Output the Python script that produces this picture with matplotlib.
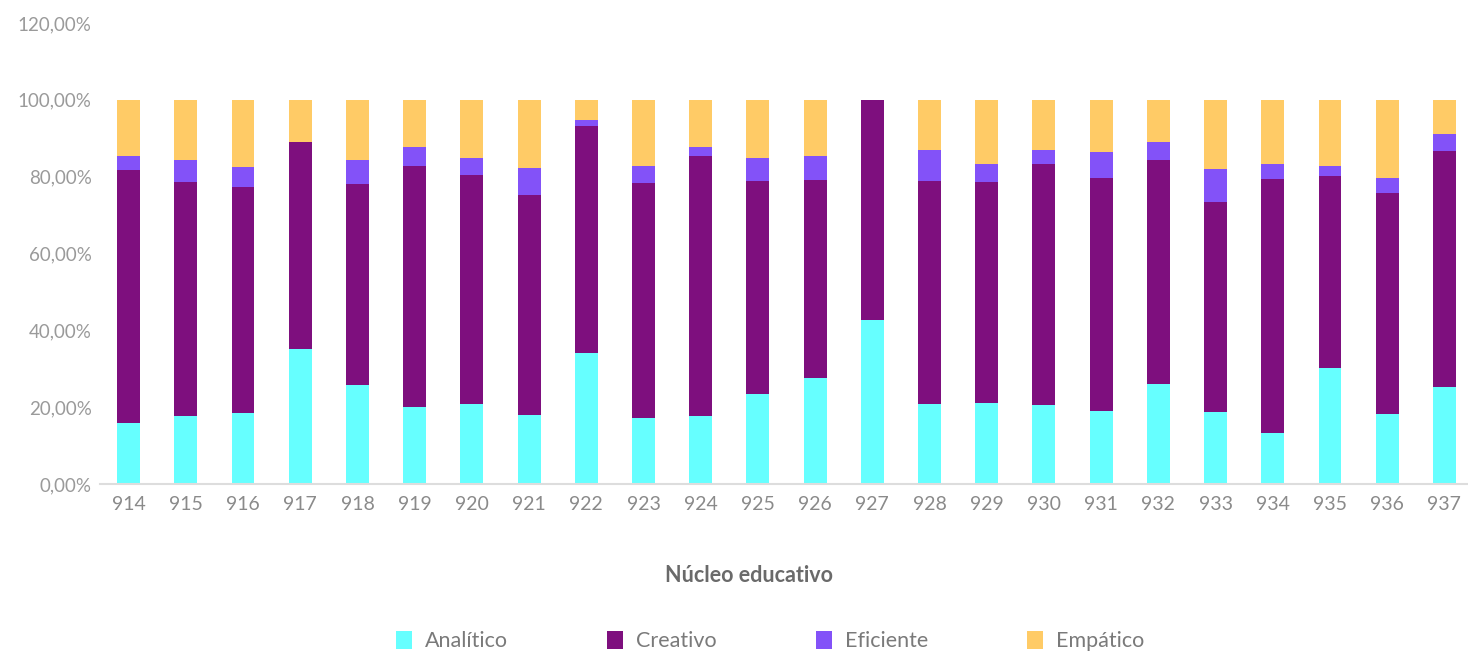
import numpy as np
import matplotlib
matplotlib.use("Agg")
import matplotlib.pyplot as plt
from matplotlib.ticker import FuncFormatter
from matplotlib.patches import Patch

# Núcleos educativos (eje x)
nucleos = [str(n) for n in range(914, 938)]

# Porcentajes por perfil
analitico = [16.0, 17.7, 18.6, 35.1, 25.8, 20.1, 20.8, 18.0, 34.0, 17.1, 17.7, 23.4,
             27.5, 42.7, 20.7, 21.2, 20.6, 19.1, 26.0, 18.7, 13.2, 30.1, 18.2, 25.3]
creativo = [65.8, 60.8, 58.7, 53.9, 52.3, 62.8, 59.7, 57.3, 59.3, 61.2, 67.7, 55.6,
            51.7, 57.3, 58.3, 57.5, 62.6, 60.5, 58.4, 54.8, 66.1, 50.1, 57.5, 61.4]
eficiente = [3.7, 5.8, 5.2, 0.0, 6.3, 4.8, 4.3, 6.9, 1.5, 4.5, 2.2, 5.8,
             6.2, 0.0, 8.0, 4.5, 3.8, 6.8, 4.7, 8.4, 3.9, 2.6, 3.9, 4.4]
empatico = [14.5, 15.7, 17.5, 11.0, 15.6, 12.3, 15.2, 17.8, 5.2, 17.2, 12.4, 15.2,
            14.6, 0.0, 13.0, 16.8, 13.0, 13.6, 10.9, 18.1, 16.8, 17.2, 20.4, 8.9]

series = ["Analítico", "Creativo", "Eficiente", "Empático"]
colores = ["#66FFFF", "#7E0F7E", "#8352F8", "#FFCB66"]

plt.rcParams['font.family'] = ['Lato', 'DejaVu Sans']


def fmt_pct(v, pos):
    return f"{v:.2f}%".replace('.', ',')


def main():
    fig = plt.figure(figsize=(14.68, 6.55), dpi=100)
    W, H = 1468, 655
    ax = fig.add_axes([100 / W, (H - 484) / H, 1373 / W, 461 / H])

    x = np.arange(len(nucleos))
    bottom = np.zeros(len(nucleos))
    for datos, color in zip([analitico, creativo, eficiente, empatico], colores):
        datos = np.array(datos)
        ax.bar(x, datos, width=0.4, bottom=bottom, color=color, linewidth=0)
        bottom += datos

    ax.set_xlim(-0.5, len(nucleos) - 0.5)
    ax.set_ylim(0, 120)
    ax.set_yticks(np.arange(0, 121, 20))
    ax.yaxis.set_major_formatter(FuncFormatter(fmt_pct))
    ax.set_xticks(x)
    ax.set_xticklabels(nucleos)

    for s in ["top", "right", "left"]:
        ax.spines[s].set_visible(False)
    ax.spines["bottom"].set_color("#DDDDDD")
    ax.spines["bottom"].set_linewidth(1.5)

    ax.tick_params(axis="y", length=0, pad=6, labelsize=13.5, labelcolor="#9A9A9A")
    ax.tick_params(axis="x", length=0, pad=9, labelsize=14, labelcolor="#8A8A8A")

    fig.text(749 / W, (H - 575) / H, "Núcleo educativo", ha="center", va="center",
             fontsize=15.5, color="#6A6A6A", fontweight="bold")

    handles = [Patch(facecolor=c, edgecolor="none") for c in colores]
    fig.legend(handles, series, loc="center", bbox_to_anchor=(770 / W, (H - 641) / H),
               ncol=4, frameon=False, fontsize=15.5, handlelength=0.75, handleheight=0.9,
               handletextpad=0.6, columnspacing=4.6, labelcolor="#7A7A7A")

    fig.savefig("out.png", dpi=100)


if __name__ == "__main__":
    main()
